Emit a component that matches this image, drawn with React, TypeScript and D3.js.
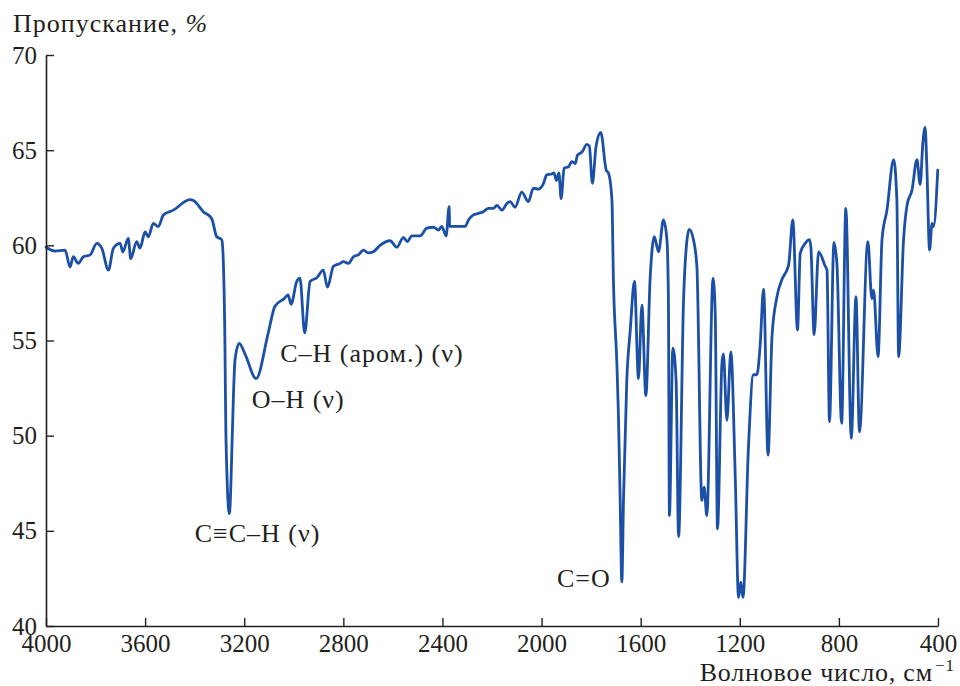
import React, { useEffect, useRef } from "react";
import * as d3 from "d3";

// Wavenumber (cm^-1) and transmission (%)
const wavenumbers: number[] = [
  4000, 3964, 3923, 3903, 3890, 3870, 3849, 3822, 3795, 3775, 3748, 3728, 3701, 3690, 3668, 3658,
  3634, 3621, 3600, 3587, 3567, 3547, 3526, 3486, 3419, 3405, 3365, 3331, 3311, 3291, 3287, 3278,
  3274, 3260, 3248, 3244, 3237, 3220, 3197, 3152, 3103, 3076, 3039, 3023, 3011, 2988, 2975, 2956,
  2934, 2907, 2881, 2864, 2840, 2813, 2800, 2780, 2759, 2739, 2719, 2699, 2679, 2652, 2611, 2584,
  2558, 2541, 2524, 2490, 2463, 2436, 2416, 2403, 2385, 2373, 2371, 2308, 2295, 2275, 2255, 2235,
  2214, 2194, 2180, 2160, 2140, 2127, 2107, 2080, 2053, 2033, 2013, 1992, 1979, 1959, 1950, 1940,
  1930, 1921, 1909, 1891, 1878, 1864, 1855, 1837, 1817, 1807, 1795, 1780, 1761, 1739, 1730, 1716,
  1710, 1696, 1690, 1683, 1676, 1669, 1656, 1642, 1625, 1609, 1595, 1579, 1562, 1545, 1528, 1508,
  1494, 1488, 1484, 1470, 1457, 1447, 1427, 1413, 1404, 1387, 1373, 1353, 1344, 1333, 1308, 1299,
  1290, 1272, 1266, 1252, 1236, 1218, 1205, 1196, 1187, 1165, 1145, 1131, 1118, 1104, 1086, 1070,
  1050, 1030, 1003, 986, 967, 956, 936, 919, 913, 900, 882, 855, 848, 838, 820, 808,
  789, 772, 750, 731, 717, 683, 667, 660, 642, 626, 606, 579, 566, 559, 539, 525,
  505, 485, 472, 461, 452, 445, 434, 424, 418, 401,
];
const transmission: number[] = [
  59.9, 59.7, 59.75, 58.86, 59.4, 59.05, 59.4, 59.5, 60.1, 59.85, 58.7, 59.85, 60.1, 59.66, 60.37, 59.3,
  60.2, 59.85, 60.7, 60.45, 61.15, 60.98, 61.6, 61.85, 62.4, 62.35, 61.77, 61.4, 60.45, 60.3, 59.9, 55.0,
  50.1, 45.9, 50.1, 51.9, 54.0, 54.85, 54.3, 53.0, 55.4, 56.8, 57.2, 57.4, 56.9, 58.1, 58.27, 55.4,
  58.1, 58.3, 58.7, 57.8, 58.9, 59.05, 59.14, 59.05, 59.4, 59.5, 59.75, 59.6, 59.66, 60.0, 60.24, 59.9,
  60.4, 60.2, 60.5, 60.5, 60.9, 60.95, 60.8, 61.0, 60.5, 62.03, 61.0, 61.0, 61.33, 61.6, 61.68, 61.77,
  61.94, 61.94, 62.1, 61.85, 62.2, 62.3, 62.0, 62.8, 62.3, 63.0, 62.95, 63.26, 63.7, 63.75, 63.8, 63.4,
  63.8, 62.46, 64.05, 64.13, 64.4, 64.3, 64.74, 64.9, 65.3, 65.2, 63.26, 65.2, 65.94, 63.95, 63.8, 62.4,
  58.2, 53.8, 51.2, 46.8, 42.32, 46.8, 52.9, 55.55, 58.1, 53.0, 56.86, 52.1, 58.2, 60.45, 59.66, 61.33,
  60.3, 57.1, 45.8, 54.6, 52.9, 44.7, 57.1, 60.3, 60.84, 60.3, 58.87, 46.6, 47.3, 45.8, 58.27, 56.4,
  45.1, 53.8, 54.3, 50.8, 54.4, 47.7, 41.5, 42.3, 41.5, 49.4, 53.2, 53.2, 54.7, 57.7, 48.98, 55.2,
  57.3, 58.2, 58.96, 61.33, 55.55, 59.58, 60.1, 60.3, 59.9, 55.3, 59.66, 58.9, 58.7, 50.73, 60.15, 59.05,
  50.65, 61.94, 49.86, 57.3, 50.2, 60.2, 57.2, 57.65, 54.15, 60.3, 61.85, 64.5, 62.4, 54.15, 60.3, 62.1,
  62.9, 64.5, 63.2, 65.4, 66.2, 64.13, 59.75, 61.15, 60.98, 63.95,
];

const xTicks: number[] = [4000, 3600, 3200, 2800, 2400, 2000, 1600, 1200, 800, 400];
const yTicks: number[] = [40, 45, 50, 55, 60, 65, 70];

const labelTexts: string[] = ["C≡C–H (ν)", "O–H (ν)", "C–H (аром.) (ν)", "C=O"];
const labelWavenumbers: number[] = [3400, 3170, 3055, 1938];
const labelTransmissions: number[] = [44.43, 51.45, 53.88, 42.04];

const W = 960;
const H = 686;
const FONT = "Liberation Serif";
const INK = "#231f20";
const LINE = "#1c4fa6";

export default function App() {
  const xAxisRef = useRef<SVGGElement>(null);
  const yAxisRef = useRef<SVGGElement>(null);

  const x = d3.scaleLinear().domain([4000, 400]).range([46, 938]);
  const y = d3.scaleLinear().domain([40, 70]).range([626, 55]);

  const data = wavenumbers.map((w, i) => [w, transmission[i]] as [number, number]);
  const line = d3
    .line<[number, number]>()
    .x((d) => x(d[0]))
    .y((d) => y(d[1]))
    .curve(d3.curveMonotoneX);

  useEffect(() => {
    const style = (g: d3.Selection<SVGGElement, unknown, null, undefined>) => {
      g.attr("font-family", FONT).attr("font-size", 25);
      g.select(".domain").attr("stroke", INK).attr("stroke-width", 1.6);
      g.selectAll(".tick line").attr("stroke", INK).attr("stroke-width", 1.4);
      g.selectAll(".tick text").attr("fill", INK).attr("font-family", FONT).attr("font-size", 25);
    };
    if (xAxisRef.current) {
      const g = d3.select(xAxisRef.current);
      g.call(
        d3
          .axisBottom(x)
          .tickValues(xTicks)
          .tickSizeInner(-8)
          .tickSizeOuter(0)
          .tickPadding(8)
          .tickFormat((d) => String(d))
      );
      style(g);
    }
    if (yAxisRef.current) {
      const g = d3.select(yAxisRef.current);
      g.call(
        d3
          .axisLeft(y)
          .tickValues(yTicks)
          .tickSizeInner(-8)
          .tickSizeOuter(0)
          .tickPadding(9)
          .tickFormat((d) => String(d))
      );
      style(g);
    }
  });

  return (
    <div style={{ position: "absolute", left: 0, top: 0 }}>
      <svg width={W} height={H} style={{ display: "block", background: "#fff" }}>
        <rect width={W} height={H} fill="#fff" />
        <path
          d={line(data) || ""}
          fill="none"
          stroke={LINE}
          strokeWidth={2.8}
          strokeLinejoin="round"
          strokeLinecap="round"
        />
        <g ref={xAxisRef} transform={`translate(0,${y(40)})`} />
        <g ref={yAxisRef} transform={`translate(${x(4000)},0)`} />
        <text x={13} y={32} fill={INK} fontFamily={FONT} fontSize={26} letterSpacing={1}>
          Пропускание, <tspan fontStyle="italic">%</tspan>
        </text>
        <text
          x={955}
          y={681}
          fill={INK}
          fontFamily={FONT}
          fontSize={26}
          letterSpacing={0.8}
          textAnchor="end"
        >
          Волновое число, см
          <tspan fontSize={17} dx={2} dy={-10} letterSpacing={1}>−1</tspan>
        </text>
        {labelTexts.map((t, i) => (
          <text
            key={t}
            x={x(labelWavenumbers[i])}
            y={y(labelTransmissions[i])}
            fill={INK}
            fontFamily={FONT}
            fontSize={26}
            letterSpacing={1}
          >
            {t}
          </text>
        ))}
      </svg>
    </div>
  );
}
